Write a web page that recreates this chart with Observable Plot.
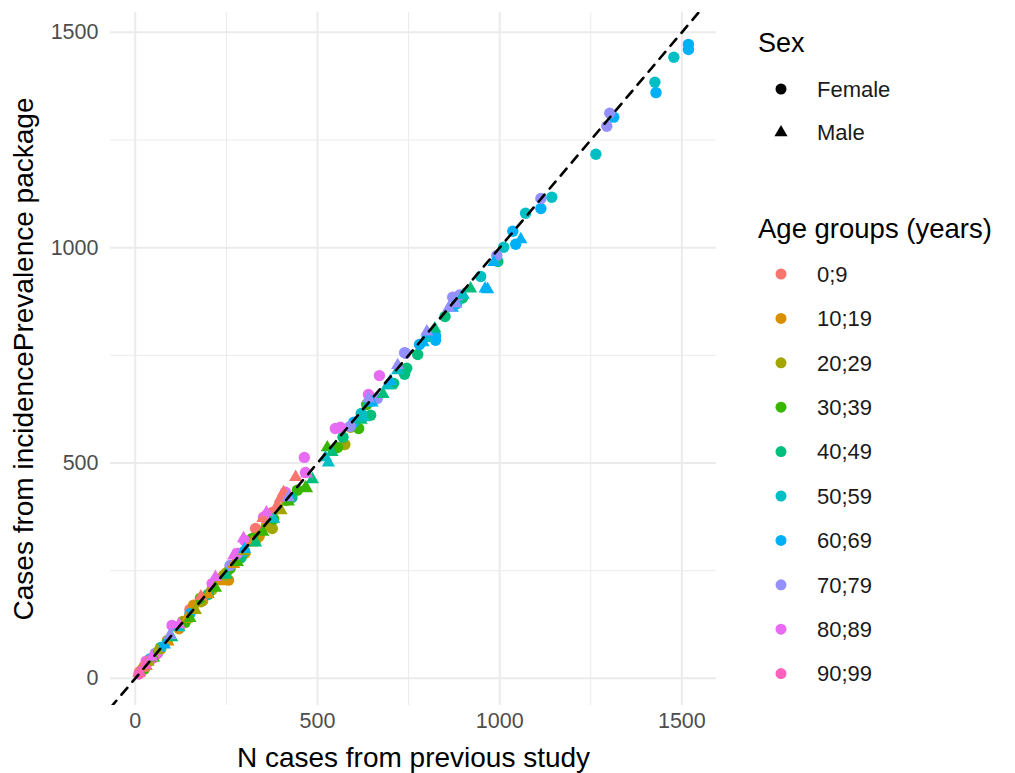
<!DOCTYPE html>
<html>
<head>
<meta charset="utf-8">
<script src="https://cdn.jsdelivr.net/npm/d3@7"></script>
<script src="https://cdn.jsdelivr.net/npm/@observablehq/plot@0.6"></script>
<style>
  body { margin: 0; background: #fff; font-family: "Liberation Sans", Arial, sans-serif; }
  #wrap { position: relative; width: 1015px; height: 773px; overflow: hidden; }
  #legend { position: absolute; left: 0; top: 0; width: 1015px; height: 773px; pointer-events: none; }
</style>
</head>
<body>
<div id="wrap"><div id="chart"></div><svg id="legend" width="1015" height="773"></svg></div>
<script>
// ---- categories ----
const ageGroups = ["0;9","10;19","20;29","30;39","40;49","50;59","60;69","70;79","80;89","90;99"];
const ageColors = ["#F8766D","#D89000","#A3A500","#39B600","#00BF7D","#00BFC4","#00B0F6","#9590FF","#E76BF3","#FF62BC"];
const sexes = ["Female","Male"];
const sexSymbols = ["circle","triangle"];
const xTicks = [0, 500, 1000, 1500];
const yTicks = [0, 500, 1000, 1500];
const minorTicks = [250, 750, 1250];
const xDomain = [-68, 1595];
const yDomain = [-63, 1546];

// ---- data: [cases previous study, cases incidencePrevalence, sex F/M] ----
const g0_9 = [[12,15,"F"],[25,28,"F"],[150,160,"F"],[280,290,"F"],[330,348,"F"],[376,385,"F"],
  [10,12,"M"],[20,24,"M"],[180,190,"M"],[350,372,"M"],[390,402,"M"],[398,418,"M"],[407,432,"M"],[440,467,"M"]];
const g10_19 = [[15,14,"F"],[40,42,"F"],[70,68,"F"],[120,115,"F"],[160,170,"F"],[185,180,"F"],[250,245,"F"],[256,228,"F"],[300,290,"F"],[340,330,"F"],[360,355,"F"],
  [30,28,"M"],[90,85,"M"],[140,138,"M"],[200,195,"M"],[230,225,"M"],[270,265,"M"],[320,315,"M"]];
const g20_29 = [[20,22,"F"],[88,88,"F"],[130,132,"F"],[180,178,"F"],[210,205,"F"],[242,239,"F"],[290,285,"F"],[330,320,"F"],[376,348,"F"],[415,413,"F"],[575,543,"F"],[591,583,"F"],
  [35,38,"M"],[60,65,"M"],[165,158,"M"],[240,235,"M"],[300,295,"M"],[360,350,"M"],[400,390,"M"]];
const g30_39 = [[25,22,"F"],[137,130,"F"],[179,186,"F"],[260,255,"F"],[321,325,"F"],[380,370,"F"],[445,437,"F"],[555,536,"F"],[613,580,"F"],[635,636,"F"],
  [50,48,"M"],[150,140,"M"],[220,210,"M"],[280,270,"M"],[350,340,"M"],[420,410,"M"],[467,443,"M"],[470,441,"M"],[527,536,"M"]];
const g40_49 = [[60,58,"F"],[200,195,"F"],[290,280,"F"],[430,420,"F"],[570,560,"F"],[646,611,"F"],[709,685,"F"],[739,706,"F"],[745,720,"F"],[775,752,"F"],[850,840,"F"],[898,883,"F"],[995,968,"F"],
  [100,95,"M"],[250,240,"M"],[330,315,"M"],[486,462,"M"],[540,525,"M"],[620,600,"M"],[680,660,"M"],[700,680,"M"],[822,812,"M"],[920,905,"M"]];
const g50_59 = [[70,72,"F"],[300,295,"F"],[620,615,"F"],[882,870,"F"],[948,933,"F"],[1011,1001,"F"],[1071,1080,"F"],[1143,1117,"F"],[1264,1217,"F"],[1426,1384,"F"],[1478,1442,"F"],
  [120,118,"M"],[380,370,"M"],[522,513,"M"],[530,501,"M"],[626,606,"M"],[640,640,"M"],[692,680,"M"],[720,715,"M"],[800,790,"M"],[900,890,"M"]];
const g60_69 = [[40,45,"F"],[150,150,"F"],[420,420,"F"],[600,595,"F"],[780,775,"F"],[824,785,"F"],[824,795,"F"],[1036,1038,"F"],[1044,1008,"F"],[1113,1091,"F"],[1313,1303,"F"],[1429,1360,"F"],[1518,1460,"F"],[1518,1472,"F"],
  [80,78,"M"],[300,300,"M"],[650,640,"M"],[700,690,"M"],[790,780,"M"],[802,801,"M"],[870,860,"M"],[960,905,"M"],[967,903,"M"],[984,966,"M"],[1058,1019,"M"]];
const g70_79 = [[55,58,"F"],[260,262,"F"],[590,585,"F"],[664,650,"F"],[739,756,"F"],[742,755,"F"],[871,885,"F"],[890,890,"F"],[992,982,"F"],[1113,1114,"F"],[1294,1282,"F"],[1302,1312,"F"],
  [95,100,"M"],[420,420,"M"],[640,650,"M"],[720,727,"M"],[800,805,"M"],[860,860,"M"],[880,870,"M"]];
const g80_89 = [[30,40,"F"],[60,58,"F"],[101,123,"F"],[211,220,"F"],[280,290,"F"],[300,320,"F"],[352,374,"F"],[412,432,"F"],[464,513,"F"],[467,478,"F"],[549,580,"F"],[563,583,"F"],[640,659,"F"],[670,703,"F"],
  [45,50,"M"],[120,125,"M"],[220,235,"M"],[270,285,"M"],[297,325,"M"],[360,385,"M"],[470,475,"M"]];
const g90_99 = [[10,10,"F"],[35,38,"F"],[50,48,"F"],[12,14,"M"],[28,30,"M"]];

const groups = [g0_9, g10_19, g20_29, g30_39, g40_49, g50_59, g60_69, g70_79, g80_89, g90_99];
const data = groups.flatMap((g, i) => g.map(([x, y, s]) => ({
  x, y, age: ageGroups[i], sex: s === "F" ? "Female" : "Male"
})));
const refLine = xDomain.map(v => ({x: v, y: v}));

const tickColor = "#4D4D4D";
const gridColor = "#EBEBEB";
const fontFam = "'Liberation Sans', Arial, sans-serif";

const chart = Plot.plot({
  width: 1015,
  height: 773,
  marginLeft: 110,
  marginRight: 299,
  marginTop: 12,
  marginBottom: 68,
  style: {fontFamily: fontFam, background: "white"},
  x: {domain: xDomain},
  y: {domain: yDomain},
  color: {domain: ageGroups, range: ageColors},
  symbol: {domain: sexes, range: sexSymbols},
  r: {type: "identity"},
  marks: [
    Plot.gridX(minorTicks, {stroke: gridColor, strokeOpacity: 1, strokeWidth: 1}),
    Plot.gridY(minorTicks, {stroke: gridColor, strokeOpacity: 1, strokeWidth: 1}),
    Plot.gridX(xTicks, {stroke: gridColor, strokeOpacity: 1, strokeWidth: 2}),
    Plot.gridY(yTicks, {stroke: gridColor, strokeOpacity: 1, strokeWidth: 2}),
    Plot.axisX(xTicks, {tickSize: 0, tickPadding: 7, fontSize: 21.5, color: tickColor, label: null, tickFormat: d => String(d)}),
    Plot.axisY(yTicks, {tickSize: 0, tickPadding: 12, fontSize: 21.5, color: tickColor, label: null, tickFormat: d => String(d)}),
    Plot.dot(data, {x: "x", y: "y", fill: "age", symbol: "sex", r: d => d.sex === "Male" ? 4.9 : 5.7}),
    Plot.line(refLine, {x: "x", y: "y", stroke: "black", strokeWidth: 2.6, strokeDasharray: "9,8", clip: true}),
    Plot.text(["N cases from previous study"], {frameAnchor: "bottom", dy: 61, fontSize: 28, fill: "black", textAnchor: "middle"}),
    Plot.text(["Cases from incidencePrevalence package"], {frameAnchor: "left", dx: -86, rotate: -90, fontSize: 28, fill: "black", textAnchor: "middle"})
  ]
});
document.getElementById("chart").appendChild(chart);

// ---- legend ----
const lg = d3.select("#legend").style("font-family", fontFam);
lg.append("text").attr("x", 758).attr("y", 52).attr("font-size", 27).text("Sex");
sexes.forEach((s, i) => {
  const cy = 89 + i * 43.5;
  lg.append("path")
    .attr("transform", `translate(781,${cy})`)
    .attr("d", d3.symbol(i === 0 ? d3.symbolCircle : d3.symbolTriangle, i === 0 ? 95 : 75)())
    .attr("fill", "black");
  lg.append("text").attr("x", 817).attr("y", cy).attr("dy", "0.35em").attr("font-size", 22).attr("fill", "#1a1a1a").text(s);
});
lg.append("text").attr("x", 758).attr("y", 238).attr("font-size", 27.5).text("Age groups (years)");
ageGroups.forEach((a, i) => {
  const cy = 274 + i * 44.4;
  lg.append("circle").attr("cx", 781).attr("cy", cy).attr("r", 5.5).attr("fill", ageColors[i]);
  lg.append("text").attr("x", 817).attr("y", cy).attr("dy", "0.35em").attr("font-size", 22).attr("fill", "#1a1a1a").text(a);
});
</script>
</body>
</html>
